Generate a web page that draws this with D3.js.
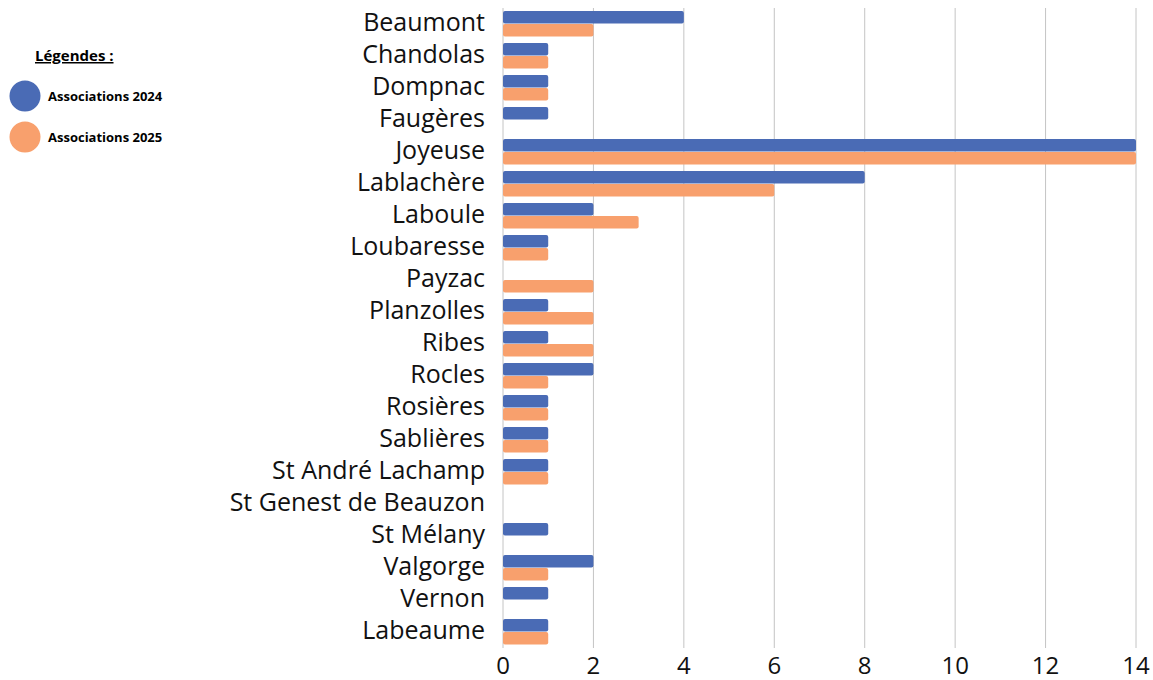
<!DOCTYPE html>
<html>
<head>
<meta charset="utf-8">
<script src="https://cdn.jsdelivr.net/npm/d3@7"></script>
<style>
  body { margin: 0; background: #fff; }
  svg { display: block; font-family: 'Open Sans', 'Noto Sans', sans-serif; }
</style>
</head>
<body>
<div id="chart"></div>
<script>
const communes = ['Beaumont', 'Chandolas', 'Dompnac', 'Faugères', 'Joyeuse', 'Lablachère', 'Laboule',
    'Loubaresse', 'Payzac', 'Planzolles', 'Ribes', 'Rocles', 'Rosières', 'Sablières', 'St André Lachamp',
    'St Genest de Beauzon', 'St Mélany', 'Valgorge', 'Vernon', 'Labeaume']
const assoc2024 = [4, 1, 1, 1, 14, 8, 2, 1, 0, 1, 1, 2, 1, 1, 1, 0, 1, 2, 1, 1]
const assoc2025 = [2, 1, 1, 0, 14, 6, 3, 1, 2, 2, 2, 1, 1, 1, 1, 0, 0, 1, 0, 1]
const seriesNames = ['Associations 2024', 'Associations 2025']
const xTicks = [0, 2, 4, 6, 8, 10, 12, 14]

const fullWidth = 1153
const fullHeight = 680
const plotLeft = 503
const plotRight = 1136
const plotTop = 8
const plotBottom = 648
const colours = ['#4a6bb5', '#f8a06d']

const svg = d3.select('#chart')
    .append('svg')
    .attr('width', fullWidth)
    .attr('height', fullHeight)

const x = d3.scaleLinear()
    .domain([0, 14])
    .range([plotLeft, plotRight])

const y = d3.scaleBand()
    .domain(communes)
    .range([plotTop, plotBottom])
    .paddingInner(0.19)
    .paddingOuter(0.095)

const ySub = d3.scaleBand()
    .domain(seriesNames)
    .range([0, y.bandwidth()])

// gridlines
svg.append('g')
    .selectAll('line')
    .data(xTicks)
    .enter()
    .append('line')
    .attr('x1', d => x(d))
    .attr('x2', d => x(d))
    .attr('y1', plotTop)
    .attr('y2', plotBottom)
    .attr('stroke', '#c4c4c4')
    .attr('stroke-width', 1)

// x tick labels
svg.append('g')
    .selectAll('text')
    .data(xTicks)
    .enter()
    .append('text')
    .attr('x', d => x(d))
    .attr('y', 674)
    .attr('text-anchor', 'middle')
    .style('font-size', '24px')
    .style('fill', '#111')
    .text(d => d)

// category labels
svg.append('g')
    .selectAll('text')
    .data(communes)
    .enter()
    .append('text')
    .attr('x', 485)
    .attr('y', d => y(d) + y.bandwidth() / 2 - 2)
    .attr('dy', '0.35em')
    .attr('text-anchor', 'end')
    .style('font-size', '25px')
    .style('fill', '#111')
    .text(d => d)

// bars
const rows = communes.map((c, i) => ({ commune: c, values: [assoc2024[i], assoc2025[i]] }))
svg.append('g')
    .selectAll('g')
    .data(rows)
    .enter()
    .append('g')
    .attr('transform', d => `translate(0, ${y(d.commune)})`)
    .selectAll('rect')
    .data(d => d.values
        .map((v, k) => ({ key: seriesNames[k], value: v, k: k }))
        .filter(b => b.value > 0))
    .enter()
    .append('rect')
    .attr('x', x(0))
    .attr('y', d => ySub(d.key))
    .attr('width', d => x(d.value) - x(0))
    .attr('height', ySub.bandwidth() - 0.5)
    .attr('rx', 2)
    .attr('fill', d => colours[d.k])

// legend
svg.append('text')
    .attr('x', 35)
    .attr('y', 61)
    .style('font-size', '15px')
    .style('font-weight', 'bold')
    .style('text-decoration', 'underline')
    .text('Légendes : ')

const legend = svg.selectAll('.legend')
    .data(seriesNames)
    .enter()
    .append('g')
    .attr('class', 'legend')
    .attr('transform', (d, i) => `translate(0, ${96 + i * 41})`)

legend.append('circle')
    .attr('cx', 25)
    .attr('cy', 0)
    .attr('r', 15.5)
    .attr('fill', (d, i) => colours[i])

legend.append('text')
    .attr('x', 48)
    .attr('y', 0)
    .attr('dy', '0.35em')
    .style('font-size', '13px')
    .style('font-weight', 'bold')
    .text(d => d)
</script>
</body>
</html>
